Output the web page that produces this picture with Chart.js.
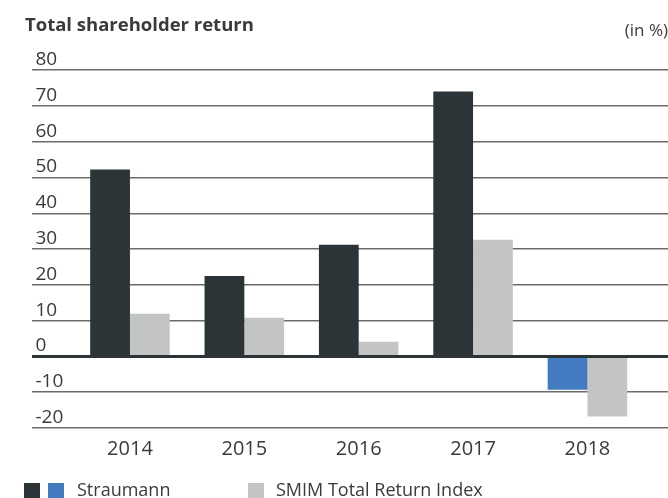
<!DOCTYPE html>
<html>
<head>
<meta charset="utf-8">
<script src="https://cdn.jsdelivr.net/npm/chart.js@4.4.1/dist/chart.umd.min.js"></script>
<style>
    html, body { margin: 0; padding: 0; background: #fff; overflow: hidden; }
    #wrap { position: relative; width: 668px; height: 498px; }
    #tsr { display: block; }
    .legend { position: absolute; top: 480px; left: 0; height: 19px;
              font: 18px/19px 'Open Sans', sans-serif; color: #3a3a3a; }
    .legend .sw { position: absolute; top: 3px; width: 16px; height: 16px; }
    .legend .txt { position: absolute; top: 0; white-space: nowrap; }
</style>
</head>
<body>
<div id="wrap">
    <canvas id="tsr" width="668" height="498"></canvas>
    <div class="legend" id="legend"></div>
</div>
<script>
// ── Data ────────────────────────────────────────────────────────

const years = [2014, 2015, 2016, 2017, 2018];
const straumann = [52.2, 22.5, 31.2, 74.0, -9.3];
const smim = [11.9, 10.8, 4.1, 32.6, -16.8];
const seriesNames = ['Straumann', 'SMIM Total Return Index'];

// ── Look ────────────────────────────────────────────────────────

const DARK = '#2d3437';
const BLUE = '#427bbf';
const GREY = '#c3c5c4';
const TEXT = '#3a3a3a';

// latest year is highlighted in blue
const straumannColors = years.map((y, i) => i === years.length - 1 ? BLUE : DARK);

Chart.defaults.font.family = "'Open Sans', sans-serif";
Chart.defaults.color = TEXT;
Chart.defaults.animation = false;

// x is linear so the gridlines can run past the outer bars
const xMin = 2013.1435;
const xMax = 2018.7044;

new Chart(document.getElementById('tsr'), {
    type: 'bar',
    data: {
        labels: years,
        datasets: [
            {
                label: seriesNames[0],
                data: straumann,
                backgroundColor: straumannColors,
                borderWidth: 0,
            },
            {
                label: seriesNames[1],
                data: smim,
                backgroundColor: GREY,
                borderWidth: 0,
            },
        ],
    },
    options: {
        responsive: false,
        layout: { padding: { left: 25, right: 0, top: 0, bottom: 28 } },
        datasets: {
            bar: { barPercentage: 1, categoryPercentage: 0.6957 },
        },
        plugins: {
            legend: { display: false },
            tooltip: { enabled: false },
            title: {
                display: true,
                text: 'Total shareholder return',
                align: 'start',
                color: TEXT,
                font: { size: 18.5, weight: 'bold' },
                padding: { top: 15, bottom: 0 },
            },
            subtitle: {
                display: true,
                text: '(in %)',
                align: 'end',
                color: TEXT,
                font: { size: 17 },
                padding: { top: -16, bottom: 28.5 },
            },
        },
        scales: {
            x: {
                type: 'linear',
                min: xMin,
                max: xMax,
                bounds: 'data',
                offset: false,
                grid: { display: false, drawTicks: false },
                border: { display: false },
                // one tick per year only
                afterBuildTicks: (scale) => {
                    scale.ticks = years.map(v => ({ value: v }));
                },
                ticks: {
                    maxRotation: 0,
                    autoSkip: false,
                    padding: 9,
                    font: { size: 20 },
                    color: TEXT,
                    callback: (v) => String(v),
                },
            },
            y: {
                min: -20,
                max: 80,
                border: { display: false },
                grid: {
                    drawTicks: false,
                    color: (ctx) => ctx.tick && ctx.tick.value === 0 ? DARK : '#6b6b6b',
                    lineWidth: (ctx) => ctx.tick && ctx.tick.value === 0 ? 3 : 1.5,
                },
                ticks: {
                    stepSize: 10,
                    mirror: true,
                    padding: 3.5,
                    labelOffset: -10.5,
                    font: { size: 19 },
                    color: TEXT,
                },
            },
        },
    },
});

// ── Legend (Straumann gets both of its colours) ─────────────────

const legendItems = [
    { swatches: [DARK, BLUE], swatchX: [24, 48], textX: 77, text: seriesNames[0] },
    { swatches: [GREY], swatchX: [248], textX: 276, text: seriesNames[1] },
];

const legendEl = document.getElementById('legend');
legendItems.forEach(item => {
    item.swatches.forEach((col, i) => {
        const sw = document.createElement('span');
        sw.className = 'sw';
        sw.style.left = item.swatchX[i] + 'px';
        sw.style.background = col;
        legendEl.appendChild(sw);
    });
    const t = document.createElement('span');
    t.className = 'txt';
    t.style.left = item.textX + 'px';
    t.textContent = item.text;
    legendEl.appendChild(t);
});
</script>
</body>
</html>
